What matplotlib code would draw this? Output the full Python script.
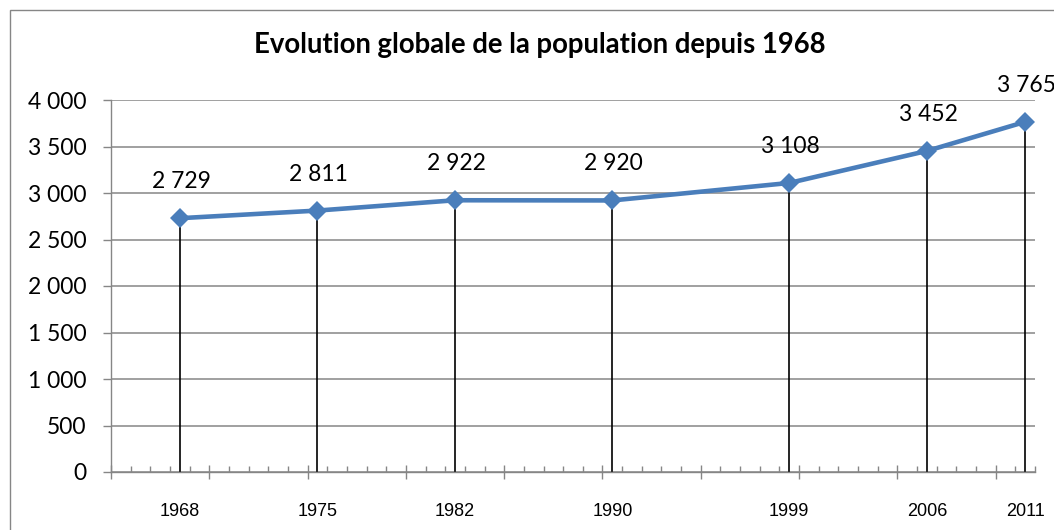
import matplotlib.pyplot as plt
from matplotlib.patches import Rectangle
from matplotlib.ticker import FuncFormatter, MultipleLocator, FixedLocator
from matplotlib import font_manager
import numpy as np

years = [1968, 1975, 1982, 1990, 1999, 2006, 2011]
population = [2729, 2811, 2922, 2920, 3108, 3452, 3765]
title = "Evolution globale de la population depuis 1968"

blue = '#4A7EBB'
grey = '#868686'
calibri_like = 'Lato'
arial_like = font_manager.FontProperties(family=['Liberation Sans', 'DejaVu Sans'], size=13)


def fr_thousands(v, pos=None):
    return f"{int(v):,}".replace(",", " ")


fig = plt.figure(figsize=(10.54, 5.30), dpi=100)
ax = fig.add_axes([111 / 1054, 58 / 530, 924 / 1054, 372 / 530])

# outer chart frame (right and bottom edges fall outside the picture)
fig.patches.append(Rectangle((10 / 1054, -0.1), 1.2, 1.1 - 10 / 530,
                             transform=fig.transFigure, fill=False,
                             edgecolor=grey, linewidth=1.0))

ax.set_xlim(1964.5, 2011.5)
ax.set_ylim(0, 4000)

ax.yaxis.set_major_locator(MultipleLocator(500))
ax.yaxis.set_major_formatter(FuncFormatter(fr_thousands))
ax.grid(axis='y', color=grey, linewidth=1.1)
ax.set_axisbelow(True)

ax.xaxis.set_major_locator(FixedLocator(np.arange(1964.5, 2012, 5)))
ax.xaxis.set_minor_locator(FixedLocator(np.arange(1964.5, 2012, 1)))
ax.xaxis.set_major_formatter(FuncFormatter(lambda v, p: ""))
ax.tick_params(axis='x', which='major', direction='inout', length=10,
               width=1.0, color=grey)
ax.tick_params(axis='x', which='minor', direction='in', length=4.3,
               width=1.0, color=grey)
ax.tick_params(axis='y', direction='out', length=5.8, width=1.0,
               color=grey, pad=12, labelsize=16.5)
for lab in ax.get_yticklabels():
    lab.set_fontfamily(calibri_like)

for side in ['top', 'right']:
    ax.spines[side].set_visible(False)
for side in ['left', 'bottom']:
    ax.spines[side].set_color(grey)
    ax.spines[side].set_linewidth(1.0)

# drop lines
ax.vlines(years, 0, population, color='black', linewidth=1.2, zorder=2)
ax.plot(years, population, color=blue, linewidth=3.3, marker='D',
        markersize=10.5, markeredgewidth=0, zorder=3, clip_on=False)

for x, v in zip(years, population):
    ax.annotate(fr_thousands(v), (x, v), xytext=(1, 21.6),
                textcoords='offset points', ha='center', va='baseline',
                fontsize=16.5, family=calibri_like, annotation_clip=False)

for x in years:
    ax.text(x, -31 / 372, str(x), transform=ax.get_xaxis_transform(),
            ha='center', va='top', fontproperties=arial_like)

fig.text(540 / 1054, 1 - 53 / 530, title, ha='center', va='baseline',
         fontsize=19.8, fontweight='bold', family=calibri_like)

fig.savefig('out.png', dpi=100)
